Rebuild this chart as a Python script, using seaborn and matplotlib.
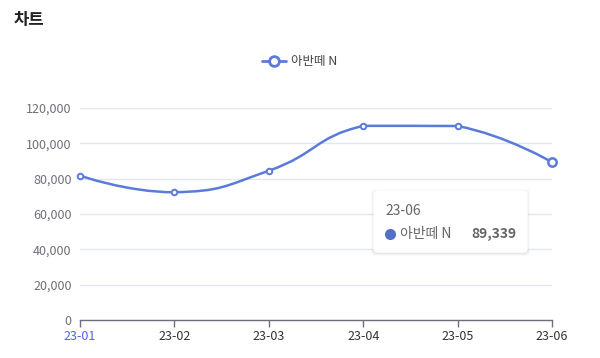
import numpy as np
import pandas as pd
import matplotlib
matplotlib.use("Agg")
import matplotlib.pyplot as plt
import seaborn as sns
from matplotlib.path import Path
from matplotlib.patches import PathPatch, FancyBboxPatch

months = ["23-01", "23-02", "23-03", "23-04", "23-05", "23-06"]
sales = [81700, 72300, 84500, 109900, 109800, 89339]
series_name = "아반떼 N"
title = "차트"
y_ticks = [0, 20000, 40000, 60000, 80000, 100000, 120000]

sns.set_theme(style="white")
FONT = ["Noto Sans CJK KR", "DejaVu Sans"]
plt.rcParams["font.family"] = FONT

W, H = 600, 358
fig = plt.figure(figsize=(W / 100, H / 100), dpi=100)
ax = fig.add_axes([80 / W, 1 - 320 / H, 472 / W, 212 / H])

LINE = "#5b7bd9"
df = pd.DataFrame({"month": months, "x": np.arange(len(months)), "v": sales})

ax.set_xlim(0, len(months) - 1)
ax.set_ylim(0, 120000)

# smooth curve (echarts-like bezier) computed in pixel space
fig.canvas.draw()
pts = ax.transData.transform(np.column_stack([df["x"], df["v"]]))
smooth = 0.5
n = len(pts)
verts = [tuple(pts[0])]
codes = [Path.MOVETO]
cps_after = []
cps_before = []
for i in range(n):
    p = pts[i]
    if i == 0 or i == n - 1:
        cps_before.append(p.copy()); cps_after.append(p.copy()); continue
    prev, nxt = pts[i - 1], pts[i + 1]
    v = nxt - prev
    d0 = np.hypot(*(p - prev)); d1 = np.hypot(*(nxt - p))
    r = d1 / (d0 + d1)
    cb = p - v * smooth * (1 - r)
    ca = p + v * smooth * r
    cb[1] = min(max(cb[1], min(prev[1], p[1])), max(prev[1], p[1]))
    ca[1] = min(max(ca[1], min(nxt[1], p[1])), max(nxt[1], p[1]))
    cps_before.append(cb); cps_after.append(ca)
for i in range(1, n):
    verts += [tuple(cps_after[i - 1]), tuple(cps_before[i]), tuple(pts[i])]
    codes += [Path.CURVE4] * 3
inv = ax.transData.inverted()
dverts = inv.transform(np.array(verts))
ax.add_patch(PathPatch(Path(dverts, codes), fill=False, edgecolor=LINE, lw=1.8, clip_on=False, zorder=3))

sns.scatterplot(data=df.iloc[:-1], x="x", y="v", ax=ax, s=16, marker="o",
                facecolor="white", edgecolor=LINE, linewidth=1.4, zorder=4, clip_on=False, legend=False)
sns.scatterplot(data=df.iloc[-1:], x="x", y="v", ax=ax, s=36, marker="o",
                facecolor="white", edgecolor=LINE, linewidth=1.8, zorder=4, clip_on=False, legend=False)

ax.set_xlim(0, len(months) - 1)
ax.set_ylim(0, 120000)
ax.set_yticks(y_ticks)
ax.set_yticklabels([f"{t:,}" for t in y_ticks])
ax.set_xticks(range(len(months)))
ax.set_xticklabels(months)
ax.set_xlabel(""); ax.set_ylabel("")
for s in ["top", "right", "left"]:
    ax.spines[s].set_visible(False)
ax.spines["bottom"].set_color("#6e7079")
ax.spines["bottom"].set_linewidth(1)
ax.grid(axis="y", color="#e0e6f1", lw=1)
ax.set_axisbelow(True)
ax.tick_params(axis="y", length=0, pad=6, labelsize=9, labelcolor="#6e7079")
ax.tick_params(axis="x", length=5, width=1, color="#6e7079", direction="out",
               pad=2, labelsize=9, labelcolor="#333333", bottom=True)
ax.get_xticklabels()[0].set_color("#4e63f0")

# title
fig.text(14 / W, 1 - 20 / H, title, fontsize=12, fontweight="bold", color="#222222",
         va="center", ha="left")

# legend
ly = 1 - 61 / H
fig.add_artist(plt.Line2D([262 / W, 286 / W], [ly, ly], color=LINE, lw=2, transform=fig.transFigure))
fig.add_artist(plt.Line2D([274 / W], [ly], marker="o", ms=7, mfc="white", mec=LINE, mew=2,
                          transform=fig.transFigure))
fig.text(291 / W, ly, series_name, fontsize=9, color="#444444", va="center", ha="left")

# tooltip
bx, by, bw, bh = 374, 191, 153, 61
for k, a in enumerate([0.04, 0.03, 0.02]):
    off = k + 1
    fig.add_artist(FancyBboxPatch(((bx - off) / W, 1 - (by + bh + off + 1) / H),
                                  (bw + 2 * off) / W, (bh + 2 * off) / H,
                                  boxstyle="round,pad=0,rounding_size=0.008",
                                  transform=fig.transFigure, fc="black", ec="none", alpha=a, zorder=9))
fig.add_artist(FancyBboxPatch((bx / W, 1 - (by + bh) / H), bw / W, bh / H,
                              boxstyle="round,pad=0,rounding_size=0.008",
                              transform=fig.transFigure, fc="white", ec="white", zorder=10))
fig.text(385 / W, 1 - 211 / H, months[-1], fontsize=10, color="#666666", va="center", ha="left", zorder=11)
fig.add_artist(plt.Line2D([390 / W], [1 - 234 / H], marker="o", ms=7, mfc="#5470c6", mec="#5470c6",
                          transform=fig.transFigure, zorder=11))
fig.text(400 / W, 1 - 234 / H, series_name, fontsize=10, color="#666666", va="center", ha="left", zorder=11)
fig.text(516 / W, 1 - 234 / H, f"{sales[-1]:,}", fontsize=10, fontweight="bold", color="#666666",
         va="center", ha="right", zorder=11)

fig.savefig("out.png", dpi=100)
